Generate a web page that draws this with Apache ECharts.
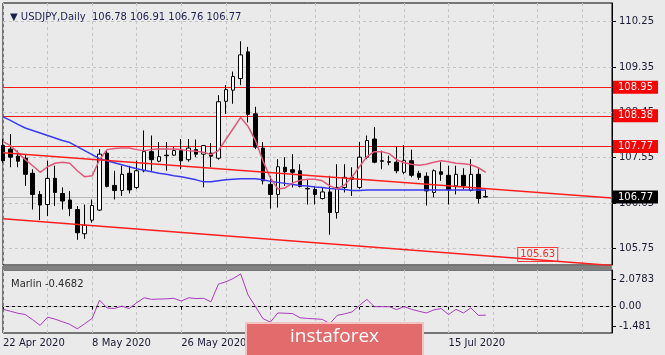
<!DOCTYPE html>
<html><head><meta charset="utf-8">
<script src="https://cdn.jsdelivr.net/npm/echarts@6/dist/echarts.min.js"></script>
<style>html,body{margin:0;padding:0;background:#eaeaea;}#c{width:665px;height:355px;}</style>
</head><body><div id="c"></div>
<script>
// ---------- data ----------
const symbolTitle = 'USDJPY,Daily';
const lastOHLC = ['106.78', '106.91', '106.76', '106.77'];
const dates = ['22 Apr 2020','23 Apr 2020','24 Apr 2020','27 Apr 2020','28 Apr 2020','29 Apr 2020','30 Apr 2020',
 '1 May 2020','4 May 2020','5 May 2020','6 May 2020','7 May 2020','8 May 2020','11 May 2020','12 May 2020','13 May 2020',
 '14 May 2020','15 May 2020','18 May 2020','19 May 2020','20 May 2020','21 May 2020','22 May 2020','25 May 2020',
 '26 May 2020','27 May 2020','28 May 2020','29 May 2020','1 Jun 2020','2 Jun 2020','3 Jun 2020','4 Jun 2020','5 Jun 2020',
 '8 Jun 2020','9 Jun 2020','10 Jun 2020','11 Jun 2020','12 Jun 2020','15 Jun 2020','16 Jun 2020','17 Jun 2020','18 Jun 2020',
 '19 Jun 2020','22 Jun 2020','23 Jun 2020','24 Jun 2020','25 Jun 2020','26 Jun 2020','29 Jun 2020','30 Jun 2020',
 '1 Jul 2020','2 Jul 2020','3 Jul 2020','6 Jul 2020','7 Jul 2020','8 Jul 2020','9 Jul 2020','10 Jul 2020','13 Jul 2020',
 '14 Jul 2020','15 Jul 2020','16 Jul 2020','17 Jul 2020','20 Jul 2020','21 Jul 2020','22 Jul 2020'];
const futureSlots = 17;
const opens  = [107.79,107.72,107.58,107.54,107.24,106.82,106.62,107.14,106.84,106.71,106.52,106.04,106.31,106.51,107.64,107.00,106.90,107.24,106.96,107.29,107.67,107.48,107.60,107.60,107.69,107.51,107.71,107.62,107.64,107.54,108.67,108.89,109.12,109.65,108.42,107.74,107.02,106.82,107.36,107.31,107.29,106.94,106.92,106.74,106.87,106.46,106.96,107.12,106.96,107.56,107.92,107.49,107.47,107.46,107.26,107.49,107.24,107.18,106.86,107.27,107.20,106.99,107.20,106.90,107.22,106.78];
const highs  = [107.92,108.02,107.69,107.62,107.32,106.89,107.49,107.39,106.96,106.89,106.59,106.62,106.72,107.72,107.69,107.29,107.39,107.39,107.49,108.09,107.99,107.86,107.86,107.76,107.92,107.92,107.91,107.80,107.84,108.79,108.99,109.26,109.86,109.75,108.56,107.86,107.19,107.52,107.56,107.62,107.42,107.12,106.99,106.96,107.19,107.42,107.42,107.36,107.86,107.99,108.16,107.69,107.59,107.76,107.80,107.71,107.29,107.26,107.32,107.46,107.39,107.39,107.34,107.52,107.36,106.91];
const lows   = [107.45,107.36,107.36,106.99,106.52,106.31,106.39,106.59,106.52,106.39,105.92,105.94,106.26,106.49,106.96,106.72,106.79,106.84,106.93,107.26,107.29,107.46,107.29,107.59,107.32,107.47,107.56,106.96,107.36,107.51,108.42,108.62,108.99,108.25,107.72,107.02,106.54,106.56,106.99,106.96,106.96,106.62,106.62,106.72,106.02,106.34,106.86,106.79,106.93,107.52,107.44,107.32,107.40,107.24,107.22,107.16,107.11,106.60,106.76,107.09,106.62,106.82,106.92,106.88,106.64,106.76];
const closes = [107.49,107.56,107.48,107.22,106.82,106.61,107.14,106.86,106.69,106.54,106.06,106.21,106.60,107.62,106.98,106.90,107.22,106.91,107.29,107.67,107.51,107.57,107.59,107.69,107.49,107.74,107.62,107.79,107.58,108.66,108.90,109.16,109.59,108.41,107.76,107.09,106.82,107.37,107.27,107.26,106.98,106.93,106.82,106.87,106.46,106.96,107.16,107.16,107.56,107.89,107.46,107.48,107.46,107.29,107.49,107.20,107.16,106.89,107.29,107.22,106.91,107.22,106.99,107.22,106.74,106.77];
const maSlow = [108.36,108.29,108.21,108.14,108.09,108.04,107.99,107.94,107.89,107.85,107.77,107.69,107.61,107.53,107.49,107.45,107.41,107.37,107.33,107.30,107.27,107.24,107.22,107.19,107.17,107.14,107.11,107.07,107.07,107.09,107.11,107.12,107.13,107.13,107.13,107.11,107.08,107.06,107.04,107.02,107.00,106.99,106.97,106.96,106.94,106.93,106.92,106.90,106.90,106.91,106.91,106.91,106.91,106.91,106.91,106.91,106.91,106.91,106.91,106.91,106.91,106.91,106.91,106.91,106.91,106.91];
const maFast = [107.87,107.79,107.65,107.51,107.39,107.26,107.37,107.44,107.46,107.44,107.29,107.17,107.19,107.51,107.71,107.73,107.74,107.74,107.71,107.69,107.71,107.72,107.72,107.72,107.71,107.69,107.68,107.66,107.61,107.69,107.91,108.13,108.35,108.17,107.89,107.49,107.15,106.93,106.95,107.05,107.10,107.12,107.12,107.09,106.99,106.93,107.01,107.17,107.37,107.57,107.67,107.67,107.63,107.51,107.45,107.42,107.40,107.42,107.46,107.49,107.47,107.44,107.43,107.41,107.35,107.26];
const marlin = [-0.20,-0.35,-0.50,-0.60,-1.00,-1.43,-0.80,-0.95,-1.15,-1.35,-1.69,-1.30,-0.90,0.50,-0.10,-0.14,0.04,-0.14,0.30,0.68,0.56,0.58,0.60,0.64,0.43,0.68,0.62,0.64,0.37,1.72,1.90,2.15,2.50,0.89,0.00,-0.91,-1.18,-0.48,-0.50,-0.53,-0.85,-0.90,-0.93,-0.97,-1.30,-0.66,-0.55,-0.40,0.10,0.56,0.00,0.00,0.00,-0.22,0.00,-0.20,-0.35,-0.48,-0.25,-0.14,-0.60,-0.20,-0.48,-0.09,-0.66,-0.65];
const marlinTitle = 'Marlin -0.4682';
const priceTicks = [110.25, 109.35, 108.45, 107.55, 106.65, 105.75];
const marlinTicks = [2.0783, 0, -1.481];
const marlinTickLabels = ['2.0783', '0.00', '-1.481'];
const levels = [108.95, 108.38, 107.77];
const bidPrice = 106.77;
const trendUpper = [107.65, 106.75];   // at first and last slot
const trendLower = [106.34, 105.41];
const trendNote = 105.63;
const noteSlot = 72;
const labelEvery = 12, gridEvery = 6;

// ---------- build ----------
const cats = dates.concat(new Array(futureSlots).fill(''));
const lastSlot = cats.length - 1;
const candles = opens.map((o, i) => [o, closes[i], lows[i], highs[i]]);
const FONT = 'DejaVu Sans';
const AX = '#1a1a33';
const GRIDC = '#c4c4c4';

const chart = echarts.init(document.getElementById('c'), null, {renderer: 'canvas'});
const common = {silent: true, symbol: ['none', 'none']};
chart.setOption({
  animation: false,
  backgroundColor: '#eaeaea',
  textStyle: {fontFamily: FONT},
  title: [
    {left: 5, top: 7, text: '▼ ' + symbolTitle + '  ' + lastOHLC.join(' '),
     textStyle: {fontFamily: FONT, fontSize: 10, fontWeight: 'normal', color: '#1c2050'}},
    {left: 6, top: 274, text: marlinTitle,
     textStyle: {fontFamily: FONT, fontSize: 10, fontWeight: 'normal', color: '#2a2a2a'}}
  ],
  grid: [
    {left: 3, width: 609, top: 3, height: 262, show: true, borderColor: '#000', borderWidth: 1, backgroundColor: 'transparent'},
    {left: 3, width: 609, top: 270, height: 63, show: true, borderColor: '#000', borderWidth: 1, backgroundColor: 'transparent'}
  ],
  xAxis: [
    {type: 'category', gridIndex: 0, data: cats, boundaryGap: false,
     axisLine: {show: false}, axisTick: {show: false}, axisLabel: {show: false},
     splitLine: {show: true, interval: (i) => i % gridEvery === 0, lineStyle: {color: GRIDC, type: [3, 3]}}},
    {type: 'category', gridIndex: 1, data: cats, boundaryGap: false,
     axisLine: {show: true, lineStyle: {color: '#000'}},
     axisTick: {show: true, length: 3, interval: (i) => i % labelEvery === 0 && i < dates.length, lineStyle: {color: '#000'}},
     axisLabel: {show: true, interval: (i) => i % labelEvery === 0 && i < dates.length, align: 'left', margin: 5,
                 fontFamily: FONT, fontSize: 10, color: AX},
     splitLine: {show: true, interval: (i) => i % gridEvery === 0, lineStyle: {color: GRIDC, type: [3, 3]}}}
  ],
  yAxis: [
    {type: 'value', gridIndex: 0, position: 'right', min: 105.42, max: 110.62, scale: true,
     axisLine: {show: true, lineStyle: {color: '#000'}},
     axisTick: {show: true, length: 4, customValues: priceTicks, lineStyle: {color: '#000'}},
     axisLabel: {show: true, customValues: priceTicks, margin: 7, formatter: (v) => v.toFixed(2),
                 fontFamily: FONT, fontSize: 10, color: AX},
     splitLine: {show: false}},
    {type: 'value', gridIndex: 1, position: 'right', min: -2.01, max: 2.80,
     axisLine: {show: true, lineStyle: {color: '#000'}},
     axisTick: {show: true, length: 4, customValues: marlinTicks, lineStyle: {color: '#000'}},
     axisLabel: {show: true, customValues: marlinTicks, margin: 7,
                 formatter: (v) => marlinTickLabels[marlinTicks.indexOf(v)] ?? String(v),
                 fontFamily: FONT, fontSize: 10, color: AX},
     splitLine: {show: false}}
  ],
  series: [
    {type: 'line', xAxisIndex: 0, yAxisIndex: 0, data: [], z: 1, silent: true,
     markLine: Object.assign({}, common, {label: {show: false}, lineStyle: {color: GRIDC, type: [3, 3], width: 1},
       data: priceTicks.map(v => ({yAxis: v}))})},
    {type: 'line', xAxisIndex: 1, yAxisIndex: 1, data: [], z: 1, silent: true,
     markLine: Object.assign({}, common, {label: {show: false}, lineStyle: {color: GRIDC, type: [3, 3], width: 1},
       data: [{yAxis: 0}]})},
    {type: 'line', xAxisIndex: 0, yAxisIndex: 0, data: [], z: 2, silent: true,
     markLine: Object.assign({}, common, {lineStyle: {color: '#b8b8b8', type: 'solid', width: 1},
       label: {show: true, position: 'end', distance: 1, formatter: (p) => p.value.toFixed(2),
               backgroundColor: '#000', color: '#fff', padding: [2, 5, 1, 5], fontFamily: FONT, fontSize: 10},
       data: [{yAxis: bidPrice}]})},
    {type: 'candlestick', xAxisIndex: 0, yAxisIndex: 0, data: candles, barWidth: 4, z: 5, silent: true,
     itemStyle: {color: '#ffffff', color0: '#000000', borderColor: '#000000', borderColor0: '#000000', borderWidth: 1}},
    {type: 'line', xAxisIndex: 0, yAxisIndex: 0, data: maSlow, symbol: 'none', z: 6, silent: true,
     lineStyle: {color: '#3a3af0', width: 1.5}},
    {type: 'line', xAxisIndex: 0, yAxisIndex: 0, data: maFast, symbol: 'none', z: 6, silent: true,
     lineStyle: {color: '#e0587a', width: 1.5}},
    {type: 'line', xAxisIndex: 0, yAxisIndex: 0, data: [[0, trendUpper[0]], [lastSlot, trendUpper[1]]], symbol: 'none', z: 7, silent: true,
     lineStyle: {color: '#ff2020', width: 1.5}},
    {type: 'line', xAxisIndex: 0, yAxisIndex: 0, data: [[0, trendLower[0]], [lastSlot, trendLower[1]]], symbol: 'none', z: 7, silent: true,
     lineStyle: {color: '#ff2020', width: 1.5},
     markPoint: {silent: true, symbol: 'rect', symbolSize: 1, itemStyle: {color: 'rgba(0,0,0,0)'},
       label: {show: true, position: 'inside', formatter: () => trendNote.toFixed(2), color: '#ff2a2a',
               backgroundColor: '#ececec', borderColor: '#ff3a3a', borderWidth: 1, padding: [2, 2, 1, 2],
               fontFamily: FONT, fontSize: 10},
       data: [{coord: [noteSlot, trendNote]}]}},
    {type: 'line', xAxisIndex: 0, yAxisIndex: 0, data: [], z: 8, silent: true,
     markLine: Object.assign({}, common, {lineStyle: {color: '#ff1a1a', type: 'solid', width: 1},
       label: {show: true, position: 'end', distance: 1, formatter: (p) => p.value.toFixed(2),
               backgroundColor: '#ff0000', color: '#fff', padding: [2, 5, 1, 5], fontFamily: FONT, fontSize: 10},
       data: levels.map(v => ({yAxis: v}))})},
    {type: 'line', xAxisIndex: 1, yAxisIndex: 1, data: marlin, symbol: 'none', z: 6, silent: true,
     lineStyle: {color: '#a83cbc', width: 1}}
  ],
  graphic: {
    zlevel: 5,
    elements: [
      {type: 'rect', left: 2, top: 266, shape: {width: 610, height: 4}, style: {fill: '#808080'}, z: 50, zlevel: 5},
      {type: 'rect', left: 245, top: 322, z: 100, zlevel: 5,
       shape: {x: 0, y: 0, width: 177, height: 40}, style: {fill: '#e46b6b', stroke: '#f3c2c2', lineWidth: 2}},
      {type: 'text', left: 290, top: 327, z: 101, zlevel: 5,
       style: {text: 'instaforex', fill: '#ffffff', font: '19px "Open Sans"'}}
    ]
  }
});
</script></body></html>
